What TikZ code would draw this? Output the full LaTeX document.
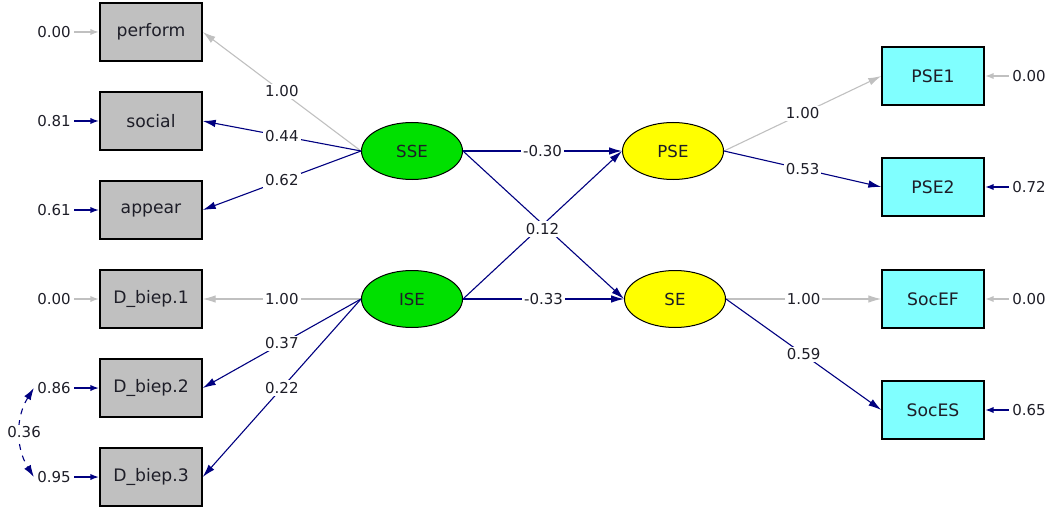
\documentclass[tikz,border=0pt]{standalone}
\usepackage{fontspec}
\setmainfont{DejaVu Sans}
\usepackage{xcolor}
\usepackage{tikz}
\usetikzlibrary{arrows.meta}
\usetikzlibrary{shapes.geometric}

\definecolor{pathblue}{RGB}{0,0,128}
\definecolor{fixgray}{RGB}{192,192,192}
\definecolor{obsgray}{RGB}{192,192,192}
\definecolor{obscyan}{RGB}{128,255,255}
\definecolor{latgreen}{RGB}{0,224,0}
\definecolor{latyellow}{RGB}{255,255,0}
\definecolor{txtdark}{RGB}{30,30,40}

\tikzset{
  obs/.style={draw=black, line width=0.7pt, fill=obsgray, minimum width=51pt,
    minimum height=29pt, inner sep=0pt, text=txtdark,
    font=\fontsize{8.6}{10}\selectfont},
  ind/.style={obs, fill=obscyan},
  lat/.style={draw=black, line width=0.5pt, ellipse, minimum width=50.5pt,
    minimum height=28.5pt, inner sep=0pt, text=txtdark,
    font=\fontsize{8.3}{10}\selectfont},
  err/.style={inner sep=1.5pt, text=txtdark, font=\fontsize{7.5}{9}\selectfont},
  coef/.style={fill=white, inner sep=1pt, text=txtdark,
    font=\fontsize{7.5}{9}\selectfont},
  free/.style={draw=pathblue, line width=0.55pt, -{Latex[length=6.5pt,width=3.8pt]}},
  fixed/.style={draw=fixgray, line width=0.55pt, -{Latex[length=6.5pt,width=3.8pt]}},
  errfree/.style={draw=pathblue, line width=0.9pt, -{Latex[length=4.5pt,width=3.2pt]}},
  errfixed/.style={draw=fixgray, line width=0.9pt, -{Latex[length=4.5pt,width=3.2pt]}},
  cov/.style={draw=pathblue, line width=0.55pt, dashed,
    {Latex[length=6pt,width=3.8pt]}-{Latex[length=6pt,width=3.8pt]}}
}

\begin{document}
\begin{tikzpicture}[x=0.5pt,y=-0.5pt]
\useasboundingbox (0,0) rectangle (1050,508);

% observed, left
\node[obs] (perform) at (151,32) {perform};
\node[obs] (social) at (151,121) {social};
\node[obs] (appear) at (151,210) {appear};
\node[obs] (dbiep1) at (151,299) {D\_biep.1};
\node[obs] (dbiep2) at (151,388) {D\_biep.2};
\node[obs] (dbiep3) at (151,477) {D\_biep.3};

% observed, right
\node[ind] (pse1) at (933,76) {PSE1};
\node[ind] (pse2) at (933,187) {PSE2};
\node[ind] (socef) at (933,299) {SocEF};
\node[ind] (soces) at (933,410) {SocES};

% latent
\node[lat, fill=latgreen] (sse) at (412,151) {SSE};
\node[lat, fill=latgreen] (ise) at (412,299) {ISE};
\node[lat, fill=latyellow] (pse) at (673,151) {PSE};
\node[lat, fill=latyellow] (se) at (675,299) {SE};

% error variances
\node[err] (eperform) at (54,32) {0.00};
\node[err] (esocial) at (54,121) {0.81};
\node[err] (eappear) at (54,210) {0.61};
\node[err] (edbiep1) at (54,299) {0.00};
\node[err] (edbiep2) at (54,388) {0.86};
\node[err] (edbiep3) at (54,477) {0.95};
\node[err] (epse1) at (1029,76) {0.00};
\node[err] (epse2) at (1029,187) {0.72};
\node[err] (esocef) at (1029,299) {0.00};
\node[err] (esoces) at (1029,410) {0.65};

\draw[errfixed] (eperform) -- (perform);
\draw[errfree] (esocial) -- (social);
\draw[errfree] (eappear) -- (appear);
\draw[errfixed] (edbiep1) -- (dbiep1);
\draw[errfree] (edbiep2) -- (dbiep2);
\draw[errfree] (edbiep3) -- (dbiep3);
\draw[errfixed] (epse1) -- (pse1);
\draw[errfree] (epse2) -- (pse2);
\draw[errfixed] (esocef) -- (socef);
\draw[errfree] (esoces) -- (soces);

\draw[cov] (edbiep2.west) to[bend right=32]
node[coef, midway, xshift=2pt] {0.36} (edbiep3.west);

% loadings
\draw[fixed] (sse.west) -- (perform.east) node[coef, midway] {1.00};
\draw[free] (sse.west) -- (social.east) node[coef, midway] {0.44};
\draw[free] (sse.west) -- (appear.east) node[coef, midway] {0.62};
\draw[fixed] (ise.west) -- (dbiep1.east) node[coef, midway] {1.00};
\draw[free] (ise.west) -- (dbiep2.east) node[coef, midway] {0.37};
\draw[free] (ise.west) -- (dbiep3.east) node[coef, midway] {0.22};

\draw[fixed] (pse.east) -- (pse1.west) node[coef, midway] {1.00};
\draw[free] (pse.east) -- (pse2.west) node[coef, midway] {0.53};
\draw[fixed] (se.east) -- (socef.west) node[coef, midway] {1.00};
\draw[free] (se.east) -- (soces.west) node[coef, midway] {0.59};

% structural paths
\draw[free] (sse.east) -- (pse.west) node[coef, midway] {-0.30};
\draw[free] (ise.east) -- (se.west) node[coef, midway] {-0.33};
\draw[free] (sse.east) -- (se.west);
\draw[free] (ise.east) -- (pse.west) node[coef, midway, yshift=-2pt] {0.12};

\end{tikzpicture}
\end{document}
